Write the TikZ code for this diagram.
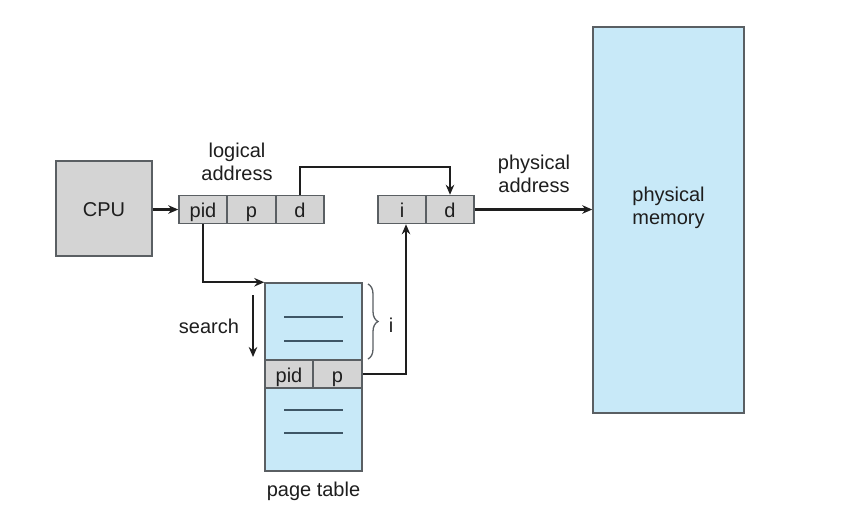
\documentclass[tikz,border=0pt]{standalone}
\usepackage{fontspec}
\setmainfont{Liberation Sans}
\usetikzlibrary{arrows.meta,decorations.pathreplacing,calc}
\definecolor{cellgray}{HTML}{D4D4D4}
\definecolor{tblue}{HTML}{C8E9F8}
\definecolor{edge}{HTML}{5A5F63}
\definecolor{ink}{HTML}{1E1E1E}
\definecolor{rule}{HTML}{3E5666}
\begin{document}
\begin{tikzpicture}[x=1pt,y=-1pt,
  txt/.style={font=\fontsize{20}{22.5}\selectfont, text=ink, align=center, inner sep=0pt},
  cell/.style={draw=edge, line width=1.5pt, fill=cellgray, minimum height=28pt, inner sep=0pt, text height=16pt, text depth=0pt, font=\fontsize{20}{22.5}\selectfont, text=ink},
  bluebox/.style={draw=edge, line width=1.5pt, fill=tblue, inner sep=0pt},
  conn/.style={draw=ink, line width=2.3pt, -{Stealth[length=10pt,width=8.5pt]}},
  tline/.style={draw=rule, line width=1.6pt}]
\useasboundingbox (0,0) rectangle (842,531);
\fill[white] (0,0) rectangle (842,531);
% CPU
\node[cell, minimum width=96pt, minimum height=95pt] (cpu) at (104,208.5) {CPU};
% logical address
\node[cell, minimum width=48pt] (pid) at (203,209.5) {pid};
\node[cell, minimum width=49pt] (p) at (251.5,209.5) {p};
\node[cell, minimum width=48pt] (d) at (300,209.5) {d};
\node[txt] (la) at (237,162) {logical\\address};
% physical address
\node[cell, minimum width=48pt] (i) at (402,209.5) {i};
\node[cell, minimum width=48pt] (d2) at (450,209.5) {d};
\node[txt] (pa) at (534,174) {physical\\address};
% physical memory
\node[bluebox, minimum width=151pt, minimum height=386pt] (mem) at (668.5,220) {};
\node[txt] (memt) at (668.5,208) {physical\\memory};
% page table
\node[bluebox, minimum width=97pt, minimum height=77pt] (ptop) at (313.5,321.5) {};
\node[cell, minimum width=48pt] (ppid) at (289,374) {pid};
\node[cell, minimum width=49pt] (pp) at (337.5,374) {p};
\node[bluebox, minimum width=97pt, minimum height=83pt] (pbot) at (313.5,429.5) {};
\node[txt] (ptl) at (313.5,491) {page table};
\draw[tline] (284,317) -- (343,317);
\draw[tline] (284,341) -- (343,341);
\draw[tline] (284,410) -- (343,410);
\draw[tline] (284,433) -- (343,433);
% search
\coordinate (s1) at (253,295);
\coordinate (s2) at (253,357);
\draw[conn] (s1) -- (s2);
\node[txt] (search) at (209,326) {search};
% brace
\coordinate (b1) at (368,284);
\coordinate (b2) at (368,359);
\draw[draw=edge, line width=1.3pt, decorate, decoration={brace, amplitude=10pt}] (b1) -- (b2);
\node[txt] (il) at (391,325) {i};
% connectors
\draw[conn] (cpu.east |- pid.west) -- (pid.west);
\draw[conn] (pid.south) |- (ptop.north west);
\draw[conn] (d.north) -- ++(0,-28) -| (d2.north);
\draw[conn] (pp.east) -| ($(i.south)+(4,0)$);
\draw[conn] (d2.east) -- (d2.east -| mem.west);
\end{tikzpicture}
\end{document}
